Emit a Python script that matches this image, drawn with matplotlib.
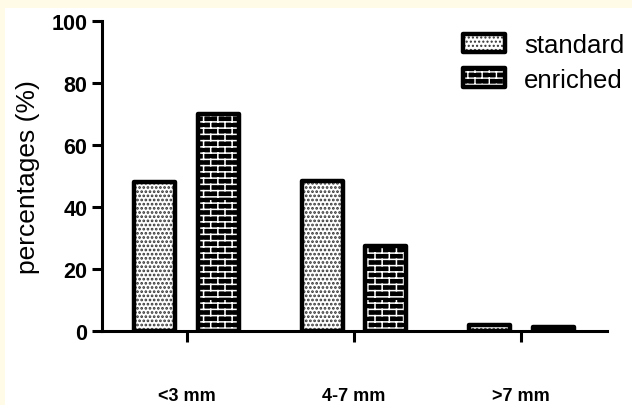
import numpy as np
import matplotlib
matplotlib.use('Agg')
import matplotlib.pyplot as plt
from matplotlib import hatch as mhatch
from matplotlib.path import Path
from matplotlib.patches import Rectangle
from matplotlib.colors import to_rgba

categories = ['<3 mm', '4-7 mm', '>7 mm']
standard = [48.1, 48.4, 1.8]
enriched = [70.0, 27.4, 1.2]
series_names = ['standard', 'enriched']
yticks = [0, 20, 40, 60, 80, 100]


class BrickHatch(mhatch.HatchPatternBase):
    rows = 16
    cols = 7

    def __init__(self, hatch, density):
        if hatch.count('+') > 0:
            self.num_vertices = 2 * self.rows + 2 * self.rows * self.cols
        else:
            self.num_vertices = 0

    def set_vertices_and_codes(self, vertices, codes):
        segs = []
        for i in range(self.rows):
            y0 = (i + 0.5) / self.rows
            y1 = (i + 1.5) / self.rows
            segs.append(((0, y0), (1, y0)))
            shift = 0.5 if i % 2 else 0.0
            for j in range(self.cols):
                xx = (j + shift + 0.25) / self.cols
                segs.append(((xx, y0), (xx, y1)))
        arr = np.array(segs, dtype=float).reshape(-1, 2)
        vertices[:] = arr
        codes[0::2] = Path.MOVETO
        codes[1::2] = Path.LINETO


mhatch._hatch_types = [BrickHatch] + [t for t in mhatch._hatch_types
                                      if t not in (mhatch.HorizontalHatch, mhatch.VerticalHatch)]

plt.rcParams['font.family'] = ['Liberation Sans', 'DejaVu Sans']
plt.rcParams['hatch.linewidth'] = 1.0

fig = plt.figure(figsize=(6.32, 4.06), dpi=100, facecolor='#fffbe6')
fig.patches.append(Rectangle((5 / 632, 0), 1, (406 - 9) / 406, transform=fig.transFigure,
                             facecolor='white', edgecolor='none', zorder=-10))
ax = fig.add_axes([102 / 632, (406 - 332) / 406, 505 / 632, 310 / 406])
ax.set_facecolor('none')

x = np.arange(len(categories))
w = 0.244
off = 0.19
b1 = ax.bar(x - off, standard, w, facecolor='white', edgecolor='black', linewidth=3.2,
            hatch='....', joinstyle='round', label=series_names[0], zorder=3)
for p in b1:
    p._hatch_color = to_rgba('#333333')
    p._hatch_linewidth = 1.3
b2 = ax.bar(x + off, enriched, w, facecolor='black', edgecolor='black', linewidth=3.2,
            hatch='+', joinstyle='round', label=series_names[1], zorder=3)
for p in b2:
    p._hatch_color = to_rgba('white')
    p._hatch_linewidth = 1.1

ax.set_xlim(-0.506, 2.512)
ax.set_ylim(0, 100)
ax.set_yticks(yticks)
ax.set_xticks(x)
ax.set_xticklabels(categories, fontsize=13, fontweight='bold')
for lab in ax.get_yticklabels():
    lab.set_fontweight('bold')
ax.tick_params(axis='y', labelsize=15.5, length=7, width=2.2, pad=3.6)
ax.tick_params(axis='x', length=8, width=2.2, pad=32)
for s in ['top', 'right']:
    ax.spines[s].set_visible(False)
for s in ['left', 'bottom']:
    ax.spines[s].set_linewidth(2.2)
ax.set_ylabel('percentages (%)', fontsize=19)
ax.yaxis.set_label_coords(-0.122, 0.5)

leg = fig.legend(handles=[b1, b2], labels=series_names, loc='upper left',
                 bbox_to_anchor=(463 / 632, 1 - 34 / 406), frameon=False,
                 fontsize=18.5, borderpad=0, borderaxespad=0,
                 handlelength=1.63, handleheight=0.74, handletextpad=0.74,
                 labelspacing=0.42)
for h in leg.legend_handles:
    h.set_joinstyle('round')

fig.savefig('out.png', dpi=100, facecolor=fig.get_facecolor())
